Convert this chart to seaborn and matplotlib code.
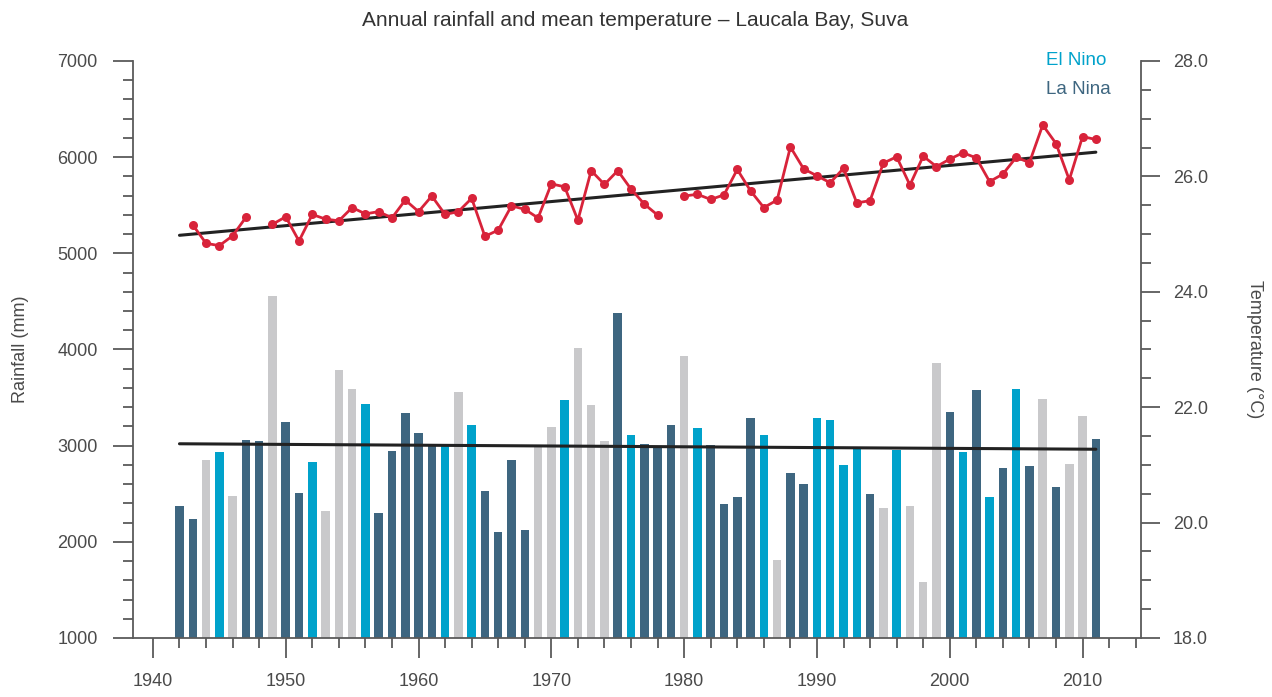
import numpy as np
import pandas as pd
import matplotlib
matplotlib.use("Agg")
import matplotlib.pyplot as plt
from matplotlib.ticker import MultipleLocator, FormatStrFormatter
import seaborn as sns

# ---- data -------------------------------------------------------------
years = list(range(1942, 2012))

rainfall_mm = [
    2370, 2240, 2850, 2930, 2480, 3060, 3050, 4560, 3250, 2510,
    2830, 2320, 3790, 3590, 3430, 2300, 2940, 3340, 3130, 3010,
    3000, 3560, 3210, 2530, 2100, 2850, 2120, 2990, 3190, 3470,
    4020, 3420, 3050, 4380, 3110, 3020, 2990, 3210, 3930, 3180,
    3010, 2390, 2470, 3290, 3110, 1810, 2720, 2600, 3290, 3270,
    2800, 2970, 2500, 2350, 2960, 2370, 1580, 3860, 3350, 2930,
    3580, 2470, 2770, 3590, 2790, 3490, 2570, 2810, 3310, 3070,
]

# E = El Nino year, L = La Nina year, N = neutral
enso_phase = [
    "L", "L", "N", "E", "N", "L", "L", "N", "L", "L",
    "E", "N", "N", "N", "E", "L", "L", "L", "L", "L",
    "E", "N", "E", "L", "L", "L", "L", "N", "N", "E",
    "N", "N", "N", "L", "E", "L", "L", "L", "N", "E",
    "L", "L", "L", "L", "E", "N", "L", "L", "E", "E",
    "E", "E", "L", "N", "E", "N", "N", "N", "L", "E",
    "L", "E", "L", "E", "L", "N", "L", "N", "N", "L",
]

mean_temp_c = [
    np.nan, 25.16, 24.84, 24.80, 24.97, 25.29, np.nan, 25.17, 25.30, 24.88,
    25.34, 25.26, 25.23, 25.46, 25.35, 25.39, 25.28, 25.59, 25.39, 25.66,
    25.34, 25.39, 25.62, 24.96, 25.07, 25.49, 25.43, 25.28, 25.87, 25.82,
    25.24, 26.10, 25.86, 26.10, 25.78, 25.52, 25.33, np.nan, 25.66, 25.69,
    25.60, 25.68, 26.12, 25.75, 25.46, 25.59, 26.51, 26.13, 26.01, 25.89,
    26.14, 25.54, 25.58, 26.23, 26.34, 25.85, 26.35, 26.17, 26.30, 26.41,
    26.32, 25.91, 26.04, 26.33, 26.24, 26.89, 26.57, 25.94, 26.69, 26.64,
]

title = "Annual rainfall and mean temperature \u2013 Laucala Bay, Suva"

# ---- styling ----------------------------------------------------------
sns.set_theme(style="white")
plt.rcParams["font.family"] = ["Liberation Sans", "DejaVu Sans"]

C_NINA = "#3e6680"
C_NINO = "#00a2cb"
C_NEUTRAL = "#c9c9cb"
C_TEMP = "#d8233a"
C_TREND = "#222222"
C_AXIS = "#5a5a5a"
C_TEXT = "#4a4a4a"

df = pd.DataFrame({"year": years, "rain": rainfall_mm,
                   "phase": enso_phase, "temp": mean_temp_c})
# separate line pieces wherever a year is missing
df["piece"] = df["temp"].isna().cumsum()

fig = plt.figure(figsize=(12.72, 6.97), dpi=100)
ax = fig.add_axes([133 / 1272, 59 / 697, 1008 / 1272, 577 / 697])

sns.barplot(data=df, x="year", y="rain", hue="phase",
            palette={"L": C_NINA, "E": C_NINO, "N": C_NEUTRAL},
            native_scale=True, dodge=False, width=0.64, linewidth=0,
            saturation=1, legend=False, ax=ax)

# rainfall trend
yr = np.array(years, dtype=float)
rc = np.polyfit(yr, np.array(rainfall_mm, dtype=float), 1)
ends = np.array([years[0], years[-1]], dtype=float)
ax.plot(ends, np.polyval(rc, ends), color=C_TREND, lw=2.2, zorder=3)

ax.set_xlim(1938.5, 2014.4)
ax.set_ylim(1000, 7000)
ax.set_xlabel("")
ax.set_ylabel("Rainfall (mm)", fontsize=13, color=C_TEXT)
ax.yaxis.set_label_coords(-0.103, 0.5)

# temperature on the right-hand axis
ax2 = ax.twinx()
tdf = df.dropna(subset=["temp"])
sns.lineplot(data=tdf, x="year", y="temp", units="piece", estimator=None,
             color=C_TEMP, lw=2.0, marker="o", markersize=6.5,
             markeredgewidth=0, ax=ax2)
tc = np.polyfit(tdf["year"].to_numpy(float), tdf["temp"].to_numpy(float), 1)
ax2.plot(ends, np.polyval(tc, ends), color=C_TREND, lw=2.2, zorder=1)
ax2.set_ylim(18, 28)
ax2.set_xlim(1938.5, 2014.4)
ax2.set_xlabel("")
ax2.set_ylabel("Temperature (\u00b0C)", fontsize=13, color=C_TEXT, rotation=270,
               va="center")
ax2.yaxis.set_label_coords(1.113, 0.5)

# ---- axes, ticks ------------------------------------------------------
for a in (ax, ax2):
    for s in a.spines.values():
        s.set_color(C_AXIS)
        s.set_linewidth(1.3)
    a.spines["top"].set_visible(False)
ax.spines["right"].set_visible(False)
ax2.spines["left"].set_visible(False)
ax2.spines["bottom"].set_visible(False)

ax.xaxis.set_major_locator(MultipleLocator(10))
ax.xaxis.set_minor_locator(MultipleLocator(2))
ax.xaxis.set_major_formatter(FormatStrFormatter("%d"))
ax.yaxis.set_major_locator(MultipleLocator(1000))
ax.yaxis.set_minor_locator(MultipleLocator(200))
ax2.yaxis.set_major_locator(MultipleLocator(2))
ax2.yaxis.set_minor_locator(MultipleLocator(0.5))
ax2.yaxis.set_major_formatter(FormatStrFormatter("%.1f"))

ax.tick_params(axis="x", which="major", direction="out", length=14.5, width=1.3,
               color=C_AXIS, labelcolor=C_TEXT, labelsize=13, pad=11, bottom=True)
ax.tick_params(axis="x", which="minor", direction="out", length=7.5, width=1.3,
               color=C_AXIS, bottom=True)
ax.tick_params(axis="y", which="major", direction="out", length=14.5, width=1.3,
               color=C_AXIS, labelcolor=C_TEXT, labelsize=13, pad=11, left=True)
ax.tick_params(axis="y", which="minor", direction="out", length=7.5, width=1.3,
               color=C_AXIS, left=True)
ax2.tick_params(axis="y", which="major", direction="out", length=14, width=1.3,
                color=C_AXIS, labelcolor=C_TEXT, labelsize=13, pad=9, right=True)
ax2.tick_params(axis="y", which="minor", direction="out", length=7.5, width=1.3,
                color=C_AXIS, right=True)

# ---- text -------------------------------------------------------------
fig.text(635 / 1272, 1 - 20 / 697, title, ha="center", va="center",
         fontsize=15, color="#333333")
ax.text(0.906, 1.0, "El Nino", transform=ax.transAxes, ha="left", va="center",
        fontsize=13.5, color=C_NINO)
ax.text(0.906, 0.950, "La Nina", transform=ax.transAxes, ha="left", va="center",
        fontsize=13.5, color=C_NINA)

fig.savefig("out.png", dpi=100)
